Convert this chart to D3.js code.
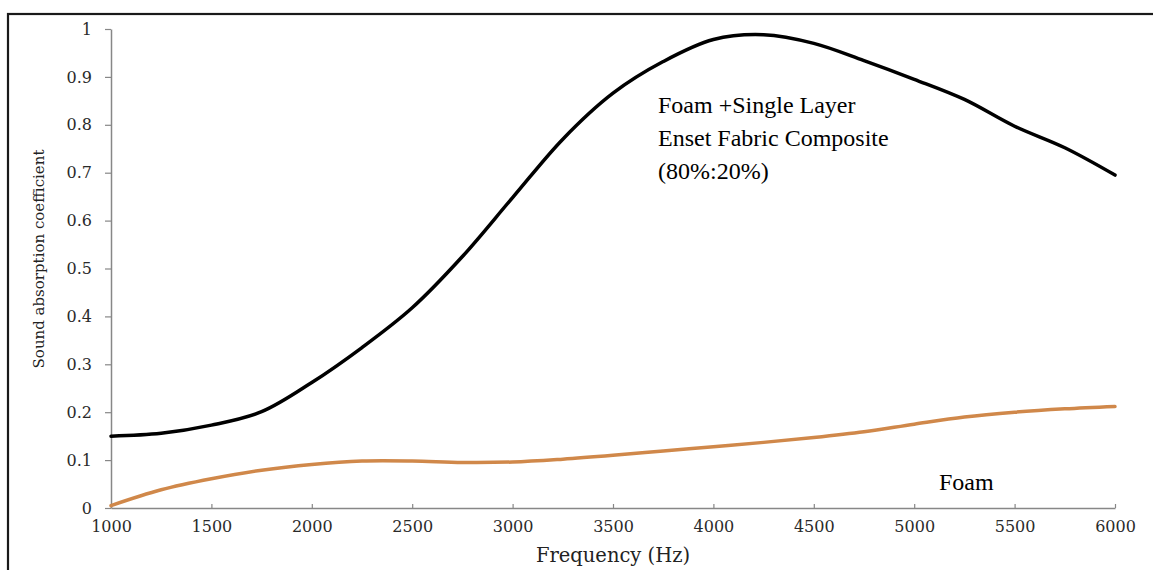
<!DOCTYPE html>
<html>
<head>
<meta charset="utf-8">
<script src="https://cdn.jsdelivr.net/npm/d3@7"></script>
<style>
  html, body { margin: 0; padding: 0; background: #fff; }
  svg { display: block; }
</style>
</head>
<body>
<svg id="chart" width="1153" height="570"></svg>
<script>
// ---- data ----
const frequency = [1000, 1250, 1500, 1750, 2000, 2250, 2500, 2750, 3000, 3250, 3500,
                   3750, 4000, 4250, 4500, 4750, 5000, 5250, 5500, 5750, 6000];
const compositeValues = [0.150, 0.156, 0.173, 0.201, 0.262, 0.335, 0.418, 0.525, 0.648, 0.770, 0.866,
                         0.932, 0.978, 0.988, 0.970, 0.934, 0.895, 0.853, 0.797, 0.752, 0.695];
const foamValues = [0.005, 0.038, 0.061, 0.079, 0.091, 0.098, 0.098, 0.095, 0.096, 0.102, 0.110,
                    0.119, 0.128, 0.137, 0.147, 0.159, 0.175, 0.190, 0.200, 0.207, 0.212];
const xTicks = [1000, 1500, 2000, 2500, 3000, 3500, 4000, 4500, 5000, 5500, 6000];
const yTicks = [0, 0.1, 0.2, 0.3, 0.4, 0.5, 0.6, 0.7, 0.8, 0.9, 1];
const compositeLabel = ["Foam +Single Layer", "Enset Fabric Composite", "(80%:20%)"];
const foamLabel = "Foam";
const xTitle = "Frequency (Hz)";
const yTitle = "Sound absorption coefficient";

// ---- layout ----
const svg = d3.select("#chart");
const plot = { left: 111, right: 1115, top: 29, bottom: 508 };
const x = d3.scaleLinear().domain([1000, 6000]).range([plot.left, plot.right]);
const y = d3.scaleLinear().domain([0, 1]).range([plot.bottom, plot.top]);
const tickFont = "'DejaVu Serif', serif";
const axisColor = "#878787";

// outer frame
svg.append("rect")
  .attr("x", 8).attr("y", 14).attr("width", 1160).attr("height", 580)
  .attr("fill", "none").attr("stroke", "#1a1a1a").attr("stroke-width", 2.2);

// y axis
const yAxis = svg.append("g")
  .attr("transform", `translate(${plot.left},0)`)
  .call(d3.axisLeft(y).tickValues(yTicks).tickSizeInner(6).tickSizeOuter(0)
        .tickPadding(13).tickFormat(d => String(+d.toFixed(1))));
yAxis.select(".domain").attr("stroke", axisColor).attr("stroke-width", 1.5);
yAxis.selectAll(".tick line").attr("stroke", axisColor).attr("stroke-width", 1.2);
yAxis.selectAll(".tick text").attr("font-family", tickFont).attr("font-size", 16).attr("fill", "#2a2a2a");

// x axis
const xAxis = svg.append("g")
  .attr("transform", `translate(0,${plot.bottom})`)
  .call(d3.axisBottom(x).tickValues(xTicks).tickSizeInner(-4).tickSizeOuter(0)
        .tickPadding(13).tickFormat(d3.format("d")));
xAxis.select(".domain").attr("stroke", axisColor).attr("stroke-width", 1.5);
xAxis.selectAll(".tick line").attr("stroke", axisColor).attr("stroke-width", 1.2);
xAxis.selectAll(".tick text").attr("font-family", tickFont).attr("font-size", 16).attr("fill", "#2a2a2a");

// axis titles
svg.append("text")
  .attr("x", (plot.left + plot.right) / 2).attr("y", 562)
  .attr("text-anchor", "middle")
  .attr("font-family", tickFont).attr("font-size", 19.5).attr("fill", "#222")
  .text(xTitle);
svg.append("text")
  .attr("transform", `translate(44,259) rotate(-90)`)
  .attr("text-anchor", "middle")
  .attr("font-family", tickFont).attr("font-size", 15).attr("fill", "#222")
  .text(yTitle);

// lines
const line = vals => d3.line()
  .x((d, i) => x(frequency[i]))
  .y(d => y(d))
  .curve(d3.curveCatmullRom.alpha(0.5))(vals);

svg.append("path")
  .attr("d", line(foamValues))
  .attr("fill", "none").attr("stroke", "#D0884A").attr("stroke-width", 3.5)
  .attr("stroke-linecap", "round");
svg.append("path")
  .attr("d", line(compositeValues))
  .attr("fill", "none").attr("stroke", "#000").attr("stroke-width", 3.5)
  .attr("stroke-linecap", "round");

// annotations
const serif = "'Liberation Serif', 'Times New Roman', serif";
svg.append("text")
  .attr("x", 658).attr("y", 113)
  .attr("font-family", serif).attr("font-size", 24).attr("fill", "#000")
  .selectAll("tspan").data(compositeLabel).join("tspan")
  .attr("x", 658).attr("dy", (d, i) => i === 0 ? 0 : 33)
  .text(d => d);
svg.append("text")
  .attr("x", 939).attr("y", 490)
  .attr("font-family", serif).attr("font-size", 24).attr("fill", "#000")
  .text(foamLabel);
</script>
</body>
</html>
